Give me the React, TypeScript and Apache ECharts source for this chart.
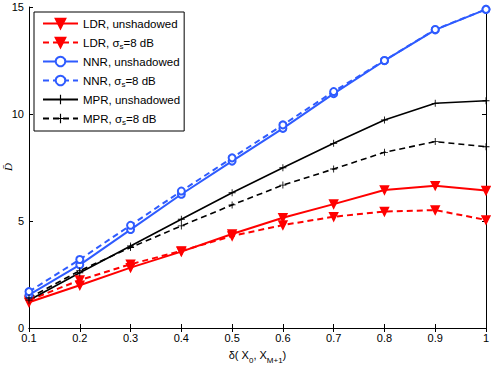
import React, { useEffect, useRef } from "react";
import * as echarts from "echarts";

const xValues = [0.1, 0.2, 0.3, 0.4, 0.5, 0.6, 0.7, 0.8, 0.9, 1.0];
const ldrUnshadowed = [1.2, 2.0, 2.82, 3.57, 4.39, 5.15, 5.79, 6.45, 6.65, 6.42];
const ldrShadowed = [1.3, 2.24, 2.98, 3.6, 4.3, 4.81, 5.2, 5.44, 5.51, 5.05];
const nnrUnshadowed = [1.55, 2.95, 4.6, 6.25, 7.8, 9.33, 10.95, 12.49, 13.93, 14.89];
const nnrShadowed = [1.7, 3.2, 4.8, 6.4, 7.95, 9.49, 11.05, 12.5, 13.95, 14.89];
const mprUnshadowed = [1.3, 2.58, 3.83, 5.08, 6.32, 7.49, 8.63, 9.72, 10.5, 10.62];
const mprShadowed = [1.4, 2.68, 3.76, 4.77, 5.75, 6.68, 7.43, 8.21, 8.71, 8.47];

const RED = "#ff0000";
const BLUE = "#2e5bff";
const BLACK = "#000000";
const PLUS = "path://M4.4,0H5.6V4.4H10V5.6H5.6V10H4.4V5.6H0V4.4H4.4Z";

const pairs = (ys: number[]) => xValues.map((x, i) => [x, ys[i]]);

export default function App() {
  const ref = useRef<HTMLDivElement>(null);
  useEffect(() => {
    if (!ref.current) return;
    const chart = echarts.init(ref.current, undefined, { renderer: "svg" });
    const font = "Liberation Sans";
    const mk = (
      name: string,
      data: number[],
      color: string,
      dashed: boolean,
      symbol: string,
      symbolSize: number,
      width: number,
      extra: any = {}
    ) => ({
      name,
      type: "line",
      data: pairs(data),
      symbol,
      symbolSize,
      showAllSymbol: true,
      lineStyle: { color, width, type: dashed ? [6, 4] : "solid" },
      itemStyle: { color, borderColor: color, borderWidth: 1.5 },
      emphasis: { disabled: true },
      ...extra,
    });
    chart.setOption({
      animation: false,
      backgroundColor: "#ffffff",
      textStyle: { fontFamily: font },
      grid: { left: 29, right: 5, top: 7, bottom: 40, outerBoundsMode: "none", containLabel: false },
      graphic: [
        {
          type: "text",
          x: 8,
          y: 167,
          rotation: Math.PI / 2,
          style: {
            text: "D\u0304",
            fontFamily: "Liberation Serif",
            fontStyle: "italic",
            fontSize: 11,
            fill: "#000",
            align: "center",
            verticalAlign: "middle",
          },
        },
      ],
      legend: {
        left: 34,
        top: 12,
        orient: "vertical",
        backgroundColor: "#ffffff",
        borderColor: "#000",
        borderWidth: 1,
        borderRadius: 0,
        padding: [5, 4, 5, 8],
        itemWidth: 35,
        itemHeight: 12,
        itemGap: 5,
        textStyle: {
          fontFamily: font,
          fontSize: 11.5,
          color: "#000",
          lineHeight: 13,
          rich: {
            s: { fontFamily: font, fontSize: 8, lineHeight: 15, verticalAlign: "bottom", color: "#000" },
          },
        },
        formatter: (name: string) => name.replace("σs", "σ{s|s}"),
        data: [
          "LDR, unshadowed",
          "LDR, σs=8 dB",
          "NNR, unshadowed",
          "NNR, σs=8 dB",
          "MPR, unshadowed",
          "MPR, σs=8 dB",
        ],
      },
      xAxis: [
        {
          type: "value",
          min: 0.1,
          max: 1,
          interval: 0.1,
          position: "bottom",
          axisLine: { lineStyle: { color: "#000", width: 1 } },
          axisTick: { inside: true, length: 4, lineStyle: { color: "#000" } },
          axisLabel: {
            color: "#000",
            fontSize: 11,
            fontFamily: font,
            margin: 4,
            showMinLabel: true,
            showMaxLabel: true,
            formatter: (v: number) => String(Math.round(v * 10) / 10),
          },
          splitLine: { show: false },
          name: "{n|δ( X}{s|0}{n|, X}{s|M+1}{n|)}",
          nameLocation: "middle",
          nameGap: 18,
          nameTextStyle: {
            rich: {
              n: { fontFamily: font, fontSize: 11, color: "#000", lineHeight: 14 },
              s: { fontFamily: font, fontSize: 8, color: "#000", lineHeight: 18, verticalAlign: "bottom" },
            },
          },
        },
        {
          type: "value",
          min: 0.1,
          max: 1,
          interval: 0.1,
          position: "top",
          axisLine: { lineStyle: { color: "#000", width: 1 } },
          axisTick: { inside: true, length: 4, lineStyle: { color: "#000" } },
          axisLabel: { show: false },
          splitLine: { show: false },
        },
      ],
      yAxis: [
        {
          type: "value",
          min: 0,
          max: 15,
          interval: 5,
          position: "left",
          axisLine: { show: true, lineStyle: { color: "#000", width: 1 } },
          axisTick: { show: true, inside: true, length: 4, lineStyle: { color: "#000" } },
          axisLabel: { color: "#000", fontSize: 11, fontFamily: font, margin: 5, showMinLabel: true, showMaxLabel: true },
          splitLine: { show: false },
        },
        {
          type: "value",
          min: 0,
          max: 15,
          interval: 5,
          position: "right",
          axisLine: { show: true, lineStyle: { color: "#000", width: 1 } },
          axisTick: { show: true, inside: true, length: 4, lineStyle: { color: "#000" } },
          axisLabel: { show: false },
          splitLine: { show: false },
        },
      ],
      series: [
        mk("LDR, unshadowed", ldrUnshadowed, RED, false, "triangle", 8, 2, { symbolRotate: 180 }),
        mk("LDR, σs=8 dB", ldrShadowed, RED, true, "triangle", 8, 2, { symbolRotate: 180 }),
        mk("NNR, unshadowed", nnrUnshadowed, BLUE, false, "emptyCircle", 7, 2),
        mk("NNR, σs=8 dB", nnrShadowed, BLUE, true, "emptyCircle", 7, 2),
        mk("MPR, unshadowed", mprUnshadowed, BLACK, false, PLUS, 7, 1.6, { itemStyle: { color: BLACK, borderWidth: 0 } }),
        mk("MPR, σs=8 dB", mprShadowed, BLACK, true, PLUS, 7, 1.6, { itemStyle: { color: BLACK, borderWidth: 0 } }),
      ],
    });
    return () => chart.dispose();
  }, []);
  return <div ref={ref} style={{ position: "absolute", left: 0, top: 0, width: 491, height: 368 }} />;
}
